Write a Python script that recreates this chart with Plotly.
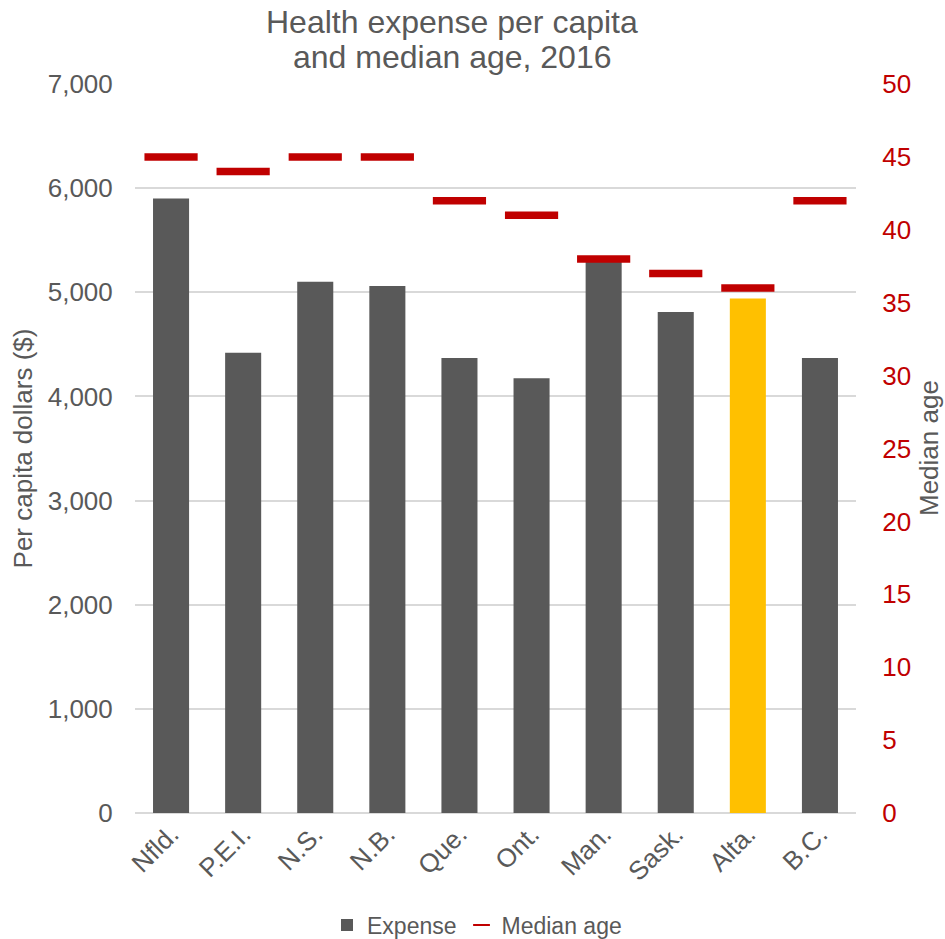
import plotly.graph_objects as go

provinces = ["Nfld.", "P.E.I.", "N.S.", "N.B.", "Que.", "Ont.", "Man.", "Sask.", "Alta.", "B.C."]
expense = [5900, 4420, 5100, 5060, 4370, 4175, 5300, 4810, 4940, 4370]
median_age = [45, 44, 45, 45, 42, 41, 38, 37, 36, 42]
bar_colors = ["#595959"] * 8 + ["#FFC000", "#595959"]
title_lines = ["Health expense per capita", "and median age, 2016"]
right_title = "Median age"

FONT = "Liberation Sans, Arial, sans-serif"
GREY = "#595959"
RED = "#C00000"

# body margin removed via post_script, figure fills the 945x939 window
W, H = 945, 939
L, R, T, B = 135, 89, 84, 126
PW = W - L - R
PH = H - T - B


def px_x(xs):
    return (xs - L) / PW


def px_y(ys):
    return (H - B - ys) / PH


fig = go.Figure()
fig.add_trace(go.Bar(
    x=provinces, y=expense, name="Expense",
    marker=dict(color=bar_colors, line=dict(width=0)),
    yaxis="y",
))
fig.add_trace(go.Scatter(
    x=provinces, y=median_age, name="Median age", mode="markers",
    marker=dict(symbol="line-ew", size=38, color=RED, line=dict(color=RED, width=7.5)),
    yaxis="y2",
))

for line, ys in zip(title_lines, [22, 57]):
    fig.add_annotation(
        text=line, xref="paper", yref="paper",
        x=px_x(452), y=px_y(ys),
        xanchor="center", yanchor="middle", showarrow=False,
        font=dict(size=32, color=GREY, family=FONT),
    )

fig.add_annotation(
    text=right_title, xref="paper", yref="paper",
    x=px_x(929), y=px_y(448), textangle=-90,
    xanchor="center", yanchor="middle", showarrow=False,
    font=dict(size=26, color=GREY, family=FONT),
)

fig.update_layout(
    width=W, height=H,
    paper_bgcolor="white", plot_bgcolor="white",
    margin=dict(l=L, r=R, t=T, b=B, autoexpand=False),
    font=dict(family=FONT, color=GREY, size=26),
    bargap=0.5,
    showlegend=True,
    legend=dict(orientation="h", x=px_x(477), xanchor="center",
                y=px_y(925), yanchor="middle",
                font=dict(size=23, color=GREY), itemsizing="constant", itemwidth=30),
    xaxis=dict(range=[-0.5, 9.5], tickangle=-45, tickfont=dict(size=26, color=GREY),
               showgrid=False, showline=False, ticks="", automargin=False),
    yaxis=dict(range=[0, 7000], dtick=1000, tickformat=",d", showgrid=True,
               gridcolor="#D9D9D9", gridwidth=2, zeroline=True, zerolinecolor="#D9D9D9",
               zerolinewidth=2, automargin=False,
               title=dict(text="Per capita dollars ($)", font=dict(size=26, color=GREY), standoff=7),
               tickfont=dict(size=26, color=GREY), ticks="outside", ticklen=16,
               tickcolor="rgba(0,0,0,0)"),
    yaxis2=dict(range=[0, 50], dtick=5, overlaying="y", side="right", showgrid=False,
                zeroline=False, automargin=False, tickfont=dict(size=26, color=RED),
                ticks="outside", ticklen=20, tickcolor="rgba(0,0,0,0)"),
)

fig.write_html(
    "out.html",
    config={"displayModeBar": False},
    post_script="document.body.style.margin='0';document.body.style.overflow='hidden';",
)
